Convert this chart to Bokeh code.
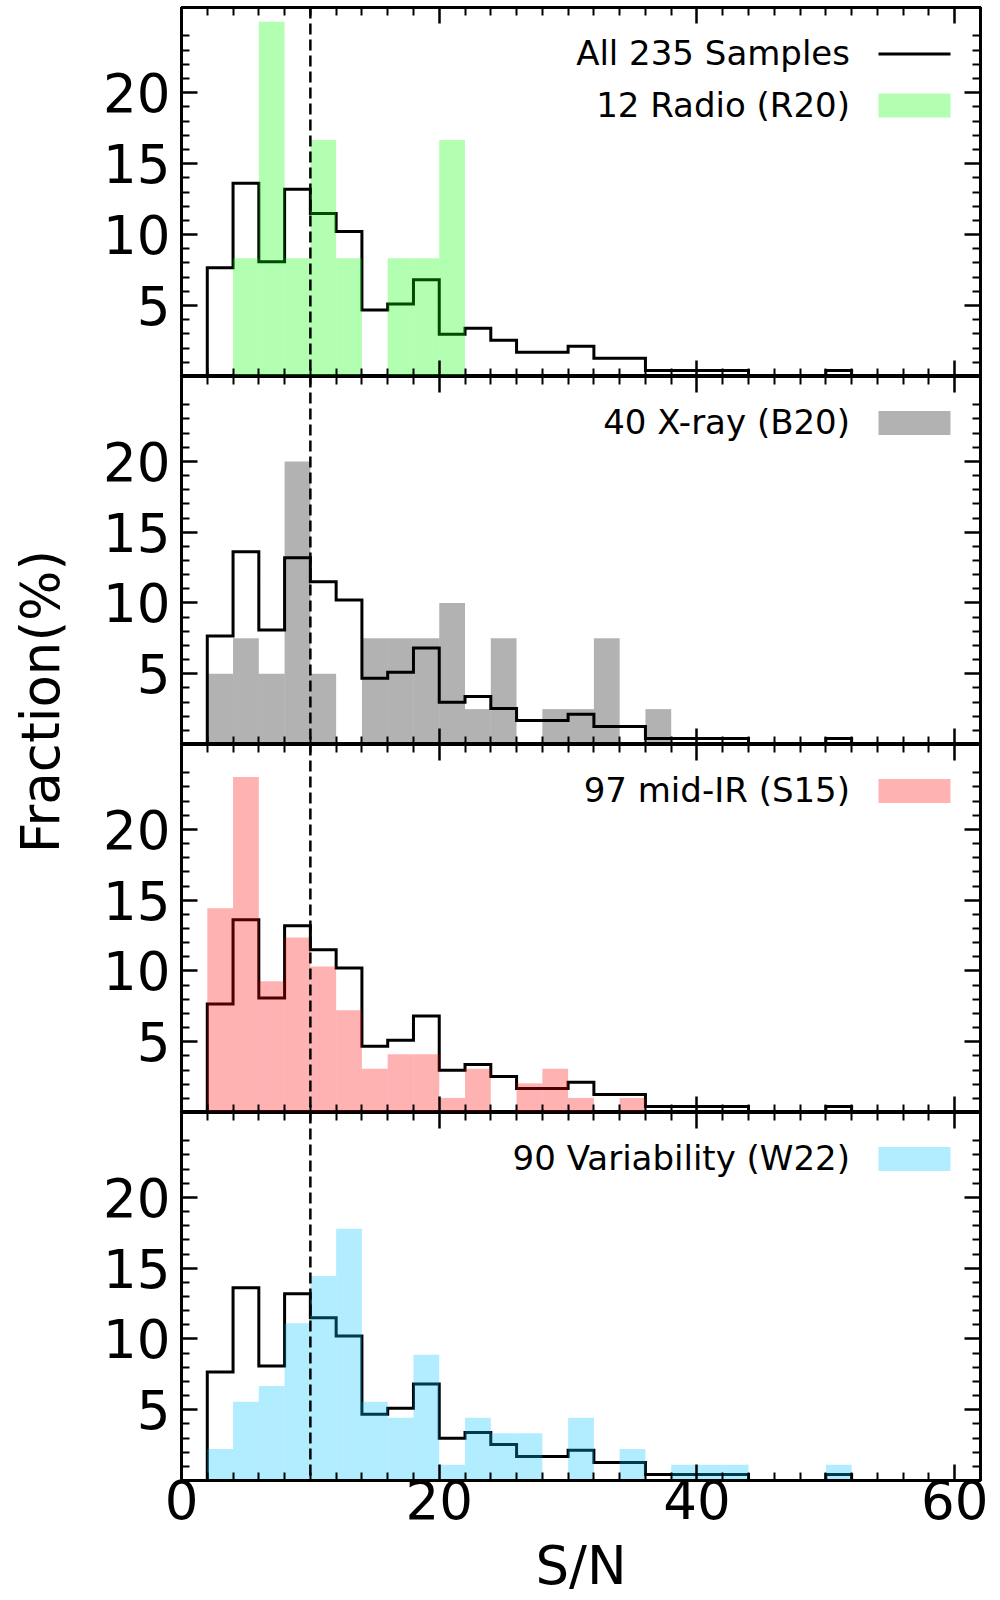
import math
from bokeh.plotting import figure
from bokeh.layouts import column, row
from bokeh.models import (Range1d, FixedTicker, LinearAxis, Span, Label,
                          BoxAnnotation, CustomJSTickFormatter)
from bokeh.embed import file_html
from bokeh.resources import INLINE
from bokeh.core.properties import value

# ---------------- data ----------------
bin_edges = [2, 4, 6, 8, 10, 12, 14, 16, 18, 20, 22, 24, 26, 28, 30, 32, 34,
             36, 38, 40, 42, 44, 46, 48, 50, 52]

# fraction (%) per S/N bin
all_samples = [7.66, 13.62, 8.09, 13.19, 11.49, 10.21, 4.68, 5.11, 6.81, 2.98,
               3.40, 2.55, 1.70, 1.70, 2.13, 1.28, 1.28, 0.43, 0.43, 0.43,
               0.43, 0.0, 0.0, 0.0, 0.43]
radio = [0.0, 8.33, 25.0, 8.33, 16.67, 8.33, 0.0, 8.33, 8.33, 16.67,
         0.0, 0.0, 0.0, 0.0, 0.0, 0.0, 0.0, 0.0, 0.0, 0.0,
         0.0, 0.0, 0.0, 0.0, 0.0]
xray = [5.0, 7.5, 5.0, 20.0, 5.0, 0.0, 7.5, 7.5, 7.5, 10.0,
        2.5, 7.5, 0.0, 2.5, 2.5, 7.5, 0.0, 2.5, 0.0, 0.0,
        0.0, 0.0, 0.0, 0.0, 0.0]
midir = [14.43, 23.71, 9.28, 12.37, 10.31, 7.22, 3.09, 4.12, 4.12, 1.03,
         3.09, 0.0, 2.06, 3.09, 1.03, 0.0, 1.03, 0.0, 0.0, 0.0,
         0.0, 0.0, 0.0, 0.0, 0.0]
variability = [2.22, 5.56, 6.67, 11.11, 14.44, 17.78, 5.56, 4.44, 8.89, 1.11,
               4.44, 3.33, 3.33, 0.0, 4.44, 0.0, 2.22, 0.0, 1.11, 1.11,
               1.11, 0.0, 0.0, 0.0, 1.11]

all_label = "All 235 Samples"
panel_labels = ["12 Radio (R20)", "40 X-ray (B20)", "97 mid-IR (S15)",
                "90 Variability (W22)"]
panel_colors = ["lime", "black", "red", "deepskyblue"]
panel_values = [radio, xray, midir, variability]

x_major = [0, 20, 40, 60]
x_minor = [t for t in range(2, 62, 2) if t % 20 != 0]
y_major = [5, 10, 15, 20]
y_minor = [t for t in range(1, 26) if t % 5 != 0]
threshold = 10
x_title = "S/N"
y_title = "Fraction(%)"

# ---------------- style / layout ----------------
FONT = "DejaVu Sans"
XMAX, YMAX = 62, 26
FW = 799
FHS = [369, 368, 368, 368]
TOP_BORDER = 7
LEFT_BORDER = 93
RIGHT_BORDER = 10
YLAB_W = 88
YLAB_H = 1590
TICK_FS = "53px"
LEG_FS = "34px"


def style_axis(ax, labels):
    ax.axis_line_width = 3
    ax.axis_line_color = "black"
    ax.major_tick_in = 16
    ax.major_tick_out = 0
    ax.minor_tick_in = 8
    ax.minor_tick_out = 0
    ax.major_tick_line_width = 2.5
    ax.minor_tick_line_width = 2
    ax.major_tick_line_color = "black"
    ax.minor_tick_line_color = "black"
    if labels:
        ax.major_label_text_font = FONT
        ax.major_label_text_font_size = TICK_FS
        ax.major_label_text_color = "black"
    else:
        ax.formatter = CustomJSTickFormatter(code="return ''")
        ax.major_label_text_font_size = "0px"
        ax.major_label_standoff = 0


def make_panel(idx):
    last = idx == 3
    fh = FHS[idx]

    def dx(px):
        return px * XMAX / FW

    def dy(px_below_top):
        return YMAX - px_below_top * YMAX / fh

    p = figure(frame_width=FW, frame_height=fh,
               x_range=Range1d(0, XMAX), y_range=Range1d(0, YMAX),
               x_axis_location=None, y_axis_location=None,
               output_backend="svg", toolbar_location=None,
               min_border_left=LEFT_BORDER, min_border_right=RIGHT_BORDER,
               min_border_top=TOP_BORDER if idx == 0 else 0,
               min_border_bottom=0,
               background_fill_color="white", border_fill_color="white")
    p.grid.visible = False
    p.outline_line_color = "black"
    p.outline_line_width = 3

    xt = FixedTicker(ticks=x_major, minor_ticks=x_minor)
    yt = FixedTicker(ticks=y_major, minor_ticks=y_minor)

    left = LinearAxis(ticker=yt)
    style_axis(left, True)
    left.major_label_standoff = 11
    p.add_layout(left, "left")

    right = LinearAxis(ticker=yt)
    style_axis(right, False)
    p.add_layout(right, "right")

    above = LinearAxis(ticker=xt)
    style_axis(above, False)
    p.add_layout(above, "above")

    below = LinearAxis(ticker=xt)
    style_axis(below, last)
    if last:
        below.major_label_standoff = -1
        below.axis_label = x_title
        below.axis_label_text_font = FONT
        below.axis_label_text_font_size = TICK_FS
        below.axis_label_text_font_style = "normal"
        below.axis_label_text_color = "black"
        below.axis_label_standoff = 13
    p.add_layout(below, "below")

    # all-sample step outline
    sx = [bin_edges[0]] + bin_edges
    sy = [0.0] + all_samples + [0.0]
    p.step(x=sx, y=sy, mode="after", line_color="black", line_width=3,
           line_join="miter")

    # sub-sample filled histogram
    p.quad(left=bin_edges[:-1], right=bin_edges[1:], top=panel_values[idx],
           bottom=0, fill_color=panel_colors[idx], fill_alpha=0.3,
           line_color=None)

    p.add_layout(Span(location=threshold, dimension="height",
                      line_color="black", line_width=2.5, line_dash="11 5"))

    # legend (text left of handle, as in the original)
    rows = []
    if idx == 0:
        rows.append((all_label, "line", "black"))
    rows.append((panel_labels[idx], "patch", panel_colors[idx]))
    pitch = 51.5
    for r, (txt, kind, col) in enumerate(rows):
        cen = 46.5 + r * pitch
        p.add_layout(Label(x=dx(668.5), y=dy(cen - 1), text=txt,
                           text_align="right", text_baseline="alphabetic",
                           text_font=FONT, text_font_size=LEG_FS,
                           text_color="black"))
        if kind == "line":
            p.add_layout(BoxAnnotation(left=dx(697), right=dx(769),
                                       bottom=dy(cen + 1.5), top=dy(cen - 1.5),
                                       fill_color="black", fill_alpha=1.0,
                                       line_color=None))
        else:
            p.add_layout(BoxAnnotation(left=dx(697), right=dx(769),
                                       bottom=dy(cen + 12), top=dy(cen - 12),
                                       fill_color=col, fill_alpha=0.3,
                                       line_color=None))
    return p


panels = [make_panel(i) for i in range(4)]

ylab = figure(width=YLAB_W, height=YLAB_H, x_range=Range1d(0, YLAB_W),
              y_range=Range1d(0, YLAB_H), x_axis_location=None,
              y_axis_location=None, output_backend="svg",
              toolbar_location=None, min_border=0)
ylab.grid.visible = False
ylab.outline_line_color = None
ylab.text(x=[40], y=[YLAB_H - 701], text=[y_title],
          angle=math.pi / 2, text_align="center", text_baseline="alphabetic",
          text_font=value(FONT), text_font_size="53px", text_color="black")

layout = row(ylab, column(*panels, spacing=0), spacing=0)

open("out.html", "w").write(file_html(layout, INLINE))
